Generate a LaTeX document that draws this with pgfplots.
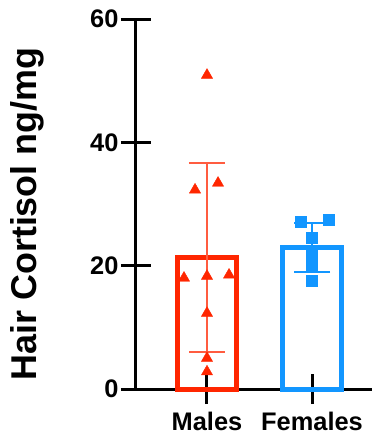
\documentclass[border=0pt]{standalone}
\usepackage{fontspec}
\setmainfont{Liberation Sans}
\usepackage{pgfplots}
\pgfplotsset{compat=1.18}
\definecolor{mred}{RGB}{255,38,0}
\definecolor{mblue}{RGB}{18,150,255}
\begin{document}
\begin{tikzpicture}
\useasboundingbox (-136bp,-47bp) rectangle (240bp,389bp);
\begin{axis}[
  at={(0,0)}, anchor=south west,
  scale only axis, width=236bp, height=370bp,
  xmin=0.324, xmax=2.571, ymin=0, ymax=60,
  axis x line*=bottom, axis y line*=left,
  axis line style={line width=3bp, black},
  ytick={0,20,40,60}, xtick={1,2}, xticklabels={Males,Females},
  major tick length=30bp, tick align=center,
  tick style={line width=3bp, black},
  ticklabel style={font=\bfseries\fontsize{25.5}{28}\selectfont},
  xticklabel style={yshift=-5bp},
  yticklabel style={xshift=1bp},
  /pgf/number format/assume math mode=true,
  ylabel={Hair Cortisol ng/mg},
  ylabel style={font=\bfseries\fontsize{36}{40}\selectfont, at={(axis description cs:-0.46,0.473)}, anchor=center},
  clip=false,
]
\addplot[ybar, bar shift=0pt, bar width=59bp, draw=mred, line width=5bp, fill=none,
  error bars/.cd, y dir=both, y explicit,
  error bar style={line width=2bp, mred!75},
  error mark options={line width=2bp, mred!75, mark size=18bp, rotate=90}]
  coordinates {(1,21.3) +- (0,15.3)};
\addplot[ybar, bar shift=0pt, bar width=59bp, draw=mblue, line width=5bp, fill=none,
  error bars/.cd, y dir=both, y explicit,
  error bar style={line width=2bp, mblue},
  error mark options={line width=2bp, mblue, mark size=18bp, rotate=90}]
  coordinates {(2,22.9) +- (0,4.0)};
\addplot[only marks, mark=triangle*, mark size=6.5bp, mred, mark options={draw=mred, fill=mred}]
  coordinates {(1,50.9) (0.886,32.3) (1.105,33.4) (0.781,18.0) (1,18.3) (1.21,18.5) (1,12.3) (1,5.0) (1,2.8)};
\addplot[only marks, mark=square*, mark size=5.5bp, mblue, mark options={draw=mblue, fill=mblue}]
  coordinates {(1.895,27.1) (2.162,27.4) (2,24.6) (2,21.8) (2,19.8) (2,17.5)};
\end{axis}
\end{tikzpicture}
\end{document}
